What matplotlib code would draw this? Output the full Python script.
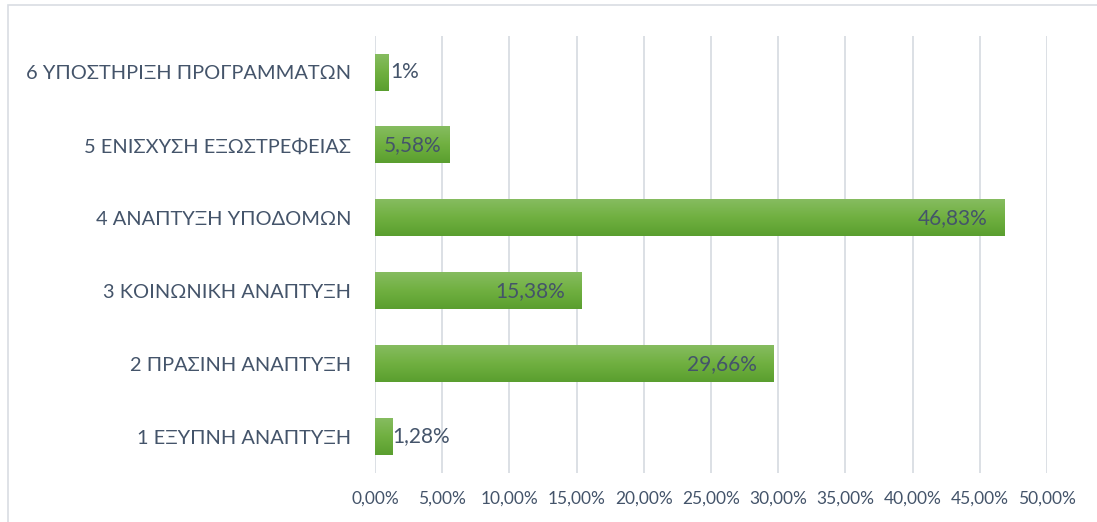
import numpy as np
import matplotlib.pyplot as plt
from matplotlib.colors import LinearSegmentedColormap
from matplotlib.patches import Rectangle

categories = ['1 ΕΞΥΠΝΗ ΑΝΑΠΤΥΞΗ', '2 ΠΡΑΣΙΝΗ ΑΝΑΠΤΥΞΗ', '3 ΚΟΙΝΩΝΙΚΗ ΑΝΑΠΤΥΞΗ',
              '4 ΑΝΑΠΤΥΞΗ ΥΠΟΔΟΜΩΝ', '5 ΕΝΙΣΧΥΣΗ ΕΞΩΣΤΡΕΦΕΙΑΣ', '6 ΥΠΟΣΤΗΡΙΞΗ ΠΡΟΓΡΑΜΜΑΤΩΝ']
values = [1.28, 29.66, 15.38, 46.83, 5.58, 1.0]
value_labels = ['1,28%', '29,66%', '15,38%', '46,83%', '5,58%', '1%']
# label offset from bar end in points (negative = inside the bar)
label_offsets = [0, -12, -12, -12, -6, 1.5]
xticks = [0, 5, 10, 15, 20, 25, 30, 35, 40, 45, 50]

plt.rcParams['font.family'] = ['Lato', 'DejaVu Sans']
text_color = '#44546A'

fig = plt.figure(figsize=(10.97, 5.22), dpi=100)
ax = fig.add_axes([375 / 1097, 49 / 522, 672 / 1097, 437 / 522])

# chart border
fig.patches.append(Rectangle((8 / 1097, -0.01), 1.0, 1.0 - 5 / 522 + 0.01,
                             transform=fig.transFigure, fill=False,
                             edgecolor='#D9DDE3', linewidth=1.2))

green = LinearSegmentedColormap.from_list('g', ['#86BC60', '#70B040', '#5A9E2F'])
grad = np.linspace(0, 1, 64).reshape(-1, 1)
h = 0.5
y = np.arange(len(categories))

for yi, v in zip(y, values):
    ax.imshow(grad, cmap=green, aspect='auto', extent=(0, v, yi - h / 2, yi + h / 2),
              zorder=3, interpolation='bicubic')

for yi, v, lab, off in zip(y, values, value_labels, label_offsets):
    ax.annotate(lab, (v, yi), xytext=(off, 0), textcoords='offset points',
                ha='right' if off < 0 else 'left', va='center',
                fontsize=15, color=text_color, zorder=4)

ax.set_xlim(0, 50)
ax.set_ylim(-0.5, len(categories) - 0.5)
ax.set_xticks(xticks)
ax.set_xticklabels([f'{t:.2f}%'.replace('.', ',') for t in xticks])
ax.set_yticks(y)
ax.set_yticklabels(categories)
ax.tick_params(axis='y', length=0, pad=17, labelsize=14.4, labelcolor=text_color)
ax.tick_params(axis='x', length=0, pad=13, labelsize=12.5, labelcolor=text_color)
ax.grid(axis='x', color='#D9DDE3', linewidth=1.3, zorder=0)
ax.set_axisbelow(True)
for s in ax.spines.values():
    s.set_visible(False)

fig.savefig('out.png', dpi=100)
